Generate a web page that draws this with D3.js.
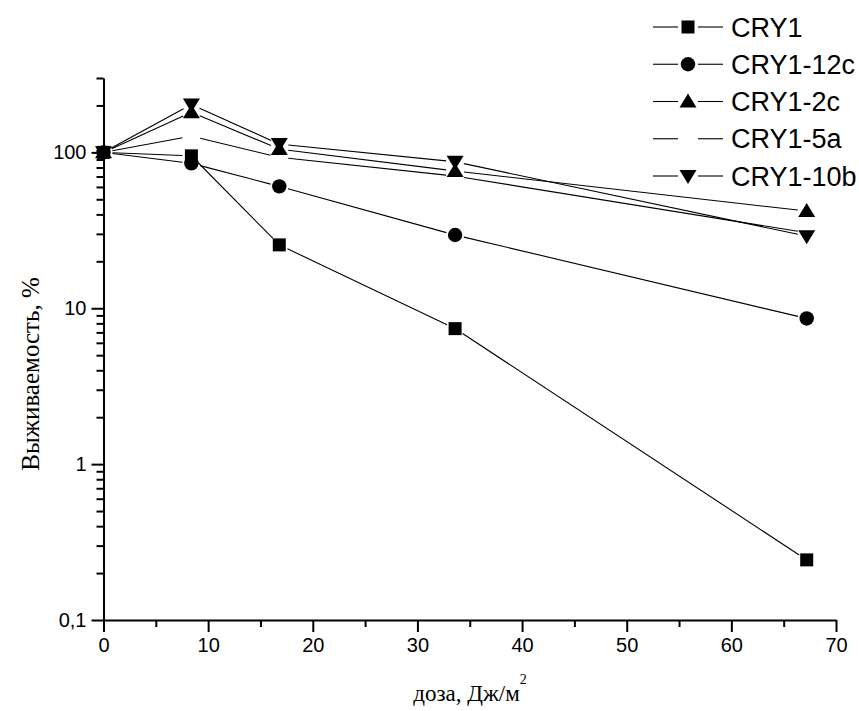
<!DOCTYPE html>
<html><head><meta charset="utf-8">
<script src="https://cdn.jsdelivr.net/npm/d3@7"></script>
<style>body{margin:0;background:#fff}svg{display:block}</style>
</head><body>
<svg id="c" width="859" height="711"></svg>
<script>
// ---- data ----
const doses = [0, 8.4, 16.8, 33.6, 67.2];
const seriesNames = ["CRY1", "CRY1-12c", "CRY1-2c", "CRY1-5a", "CRY1-10b"];
const cry1    = [100, 95, 25.5, 7.4, 0.243];
const cry1_12c = [100, 85, 60.5, 29.5, 8.6];
const cry1_2c  = [100, 181, 105, 76, 42];
const cry1_5a  = [100, 127, 93, 70.5, 30.5];
const cry1_10b = [100, 203, 113, 87, 29];
const markerTypes = ["square", "circle", "up", "none", "down"];
const xTicks = [0, 10, 20, 30, 40, 50, 60, 70];
const xMinorTicks = [5, 15, 25, 35, 45, 55, 65];
const yTicks = [0.1, 1, 10, 100];
const yTickLabels = ["0,1", "1", "10", "100"];
const yMinorTicks = [0.2,0.3,0.4,0.5,0.6,0.7,0.8,0.9,2,3,4,5,6,7,8,9,20,30,40,50,60,70,80,90,200,300];
const xTitle = "доза, Дж/м";
const yTitle = "Выживаемость, %";

const seriesValues = [cry1, cry1_12c, cry1_2c, cry1_5a, cry1_10b];
const series = seriesNames.map((n, i) => ({
  name: n, marker: markerTypes[i],
  pts: doses.map((d, j) => ({x: d, y: seriesValues[i][j]}))
}));

const svg = d3.select("#c");
const x = d3.scaleLinear().domain([0, 70]).range([103.5, 836]);
const y = d3.scaleLog().domain([0.1, 300]).range([620, 78]);

const tickFont = "Liberation Sans, Arial, sans-serif";
const serif = "Liberation Serif, Times New Roman, serif";

// axes
const gx = svg.append("g").attr("transform", "translate(0,620)")
  .call(d3.axisBottom(x).tickValues(xTicks).tickSize(12).tickSizeOuter(0).tickPadding(6).tickFormat(d3.format("d")));
const gxm = svg.append("g").attr("transform", "translate(0,620)")
  .call(d3.axisBottom(x).tickValues(xMinorTicks).tickSize(7).tickSizeOuter(0).tickFormat(""));
gxm.select(".domain").remove();
const gy = svg.append("g").attr("transform", "translate(103.5,0)")
  .call(d3.axisLeft(y).tickValues(yTicks).tickSize(12).tickSizeOuter(0).tickPadding(5).tickFormat((d, i) => yTickLabels[i]));
const gym = svg.append("g").attr("transform", "translate(103.5,0)")
  .call(d3.axisLeft(y).tickValues(yMinorTicks).tickSize(7).tickSizeOuter(0).tickFormat(""));
gym.select(".domain").remove();

svg.selectAll(".domain").attr("stroke", "#000").attr("stroke-width", 2);
svg.selectAll(".tick line").attr("stroke", "#000").attr("stroke-width", 2);
svg.selectAll(".tick text").attr("font-family", tickFont).attr("font-size", 20).attr("fill", "#000");

// axis titles
const xt = svg.append("text").attr("x", 470).attr("y", 701).attr("text-anchor", "middle")
  .attr("font-family", serif).attr("font-size", 23).attr("fill", "#000");
xt.append("tspan").text(xTitle);
xt.append("tspan").attr("dy", -17).attr("font-size", 14).text("2");

svg.append("text").attr("transform", "translate(39,374) rotate(-90)").attr("text-anchor", "middle")
  .attr("font-family", serif).attr("font-size", 25).attr("fill", "#000").text(yTitle);

// marker path generator (relative shapes)
function markerPath(type) {
  switch (type) {
    case "square": return "M-6.5,-6.5H6.5V6.5H-6.5Z";
    case "circle": return d3.symbol(d3.symbolCircle, Math.PI * 7.2 * 7.2)();
    case "up": return "M0,-8L8.5,6L-8.5,6Z";
    case "down": return "M0,8L8.5,-6L-8.5,-6Z";
    default: return null;
  }
}

// lines with gaps at points
const gap = 9;
const lineG = svg.append("g");
series.forEach(s => {
  for (let i = 0; i < s.pts.length - 1; i++) {
    const x1 = x(s.pts[i].x), y1 = y(s.pts[i].y), x2 = x(s.pts[i+1].x), y2 = y(s.pts[i+1].y);
    const len = Math.hypot(x2 - x1, y2 - y1);
    const ux = (x2 - x1) / len, uy = (y2 - y1) / len;
    lineG.append("line")
      .attr("x1", x1 + ux * gap).attr("y1", y1 + uy * gap)
      .attr("x2", x2 - ux * gap).attr("y2", y2 - uy * gap)
      .attr("stroke", "#000").attr("stroke-width", 1.1);
  }
});
const markG = svg.append("g");
series.forEach(s => {
  const p = markerPath(s.marker);
  if (!p) return;
  markG.selectAll(null).data(s.pts).enter().append("path")
    .attr("d", p)
    .attr("transform", d => `translate(${x(d.x)},${y(d.y)})`)
    .attr("fill", "#000");
});

// legend
const legRowY = d3.scalePoint().domain(seriesNames).range([27, 176]);
const leg = svg.append("g");
series.forEach(s => {
  const cy = legRowY(s.name);
  leg.append("line").attr("x1", 653).attr("x2", 678).attr("y1", cy).attr("y2", cy).attr("stroke", "#000").attr("stroke-width", 1.1);
  leg.append("line").attr("x1", 698).attr("x2", 723).attr("y1", cy).attr("y2", cy).attr("stroke", "#000").attr("stroke-width", 1.1);
  const p = markerPath(s.marker);
  if (p) leg.append("path").attr("d", p).attr("transform", `translate(688,${cy})`).attr("fill", "#000");
  leg.append("text").attr("x", 731).attr("y", cy + 9.5).attr("font-family", tickFont).attr("font-size", 27).attr("fill", "#000").text(s.name);
});
</script>
</body></html>
